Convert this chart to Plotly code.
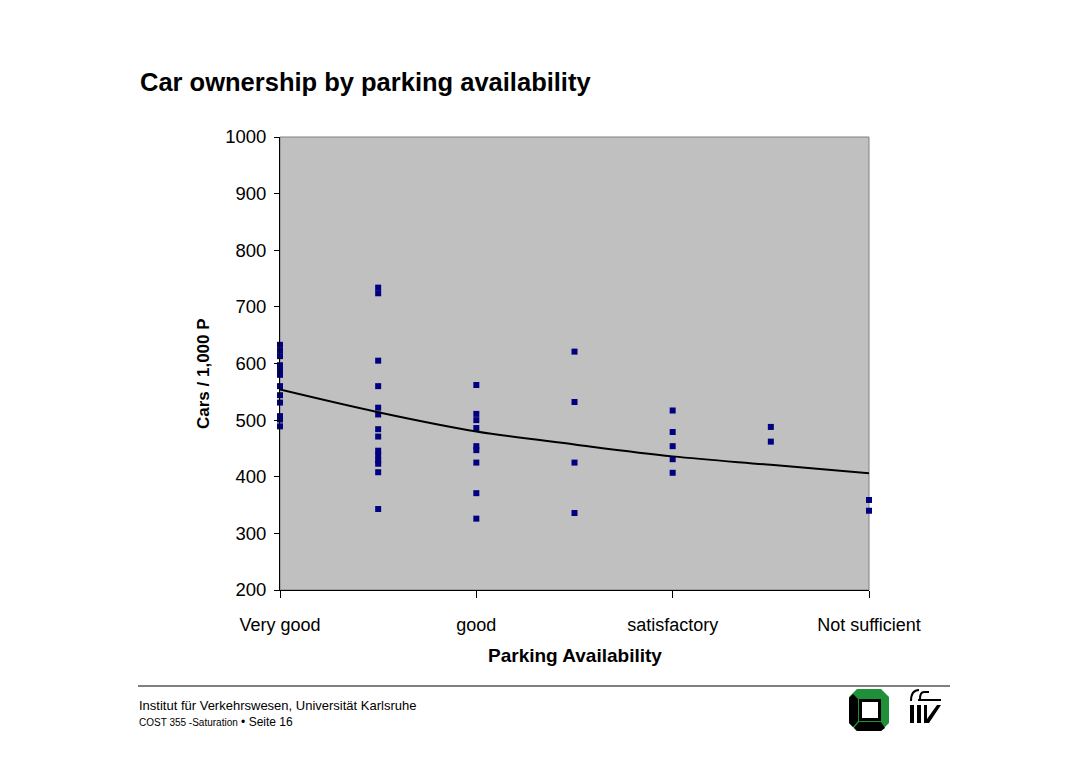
import plotly.graph_objects as go

# ---------------- data ----------------
categories = ["Very good", "good", "satisfactory", "Not sufficient"]
category_positions = [1, 3, 5, 7]

col1 = [633, 623, 613, 597, 588, 580, 560, 544, 531, 507, 501, 489]
col2 = [734, 724, 605, 560, 522, 510, 484, 471, 446, 438, 429, 423, 408, 343]
col3 = [562, 511, 500, 486, 454, 447, 425, 371, 326]
col4 = [621, 532, 425, 336]
col5 = [517, 479, 454, 431, 407]
col6 = [488, 462]
col7 = [359, 340]
columns = [col1, col2, col3, col4, col5, col6, col7]

trend_x = [1, 2, 3, 4, 5, 6, 7]
trend_y = [554, 514, 480, 457, 436, 421, 406]

# ---------------- layout geometry (page pixels; body has an 8px margin) ----------------
OFF = 8
W, H = 1073, 753
L, R, T, B = 280, 869, 137, 590   # plot area in page pixels

def px(x):
    return (x - L) / (R - L)

def py(y):
    return (B - y) / (B - T)

def poly(points):
    return "M " + " L ".join(f"{px(x):.5f},{py(y):.5f}" for x, y in points) + " Z"

FONT = "Arial, Liberation Sans, sans-serif"

xs, ys = [], []
for i, col in enumerate(columns):
    xs += [i + 1] * len(col)
    ys += col

fig = go.Figure()
fig.add_trace(go.Scatter(
    x=xs, y=ys, mode="markers",
    marker=dict(symbol="square", size=6, color="#000080", line=dict(width=0)),
    cliponaxis=False, showlegend=False, hoverinfo="x+y"))
fig.add_trace(go.Scatter(
    x=trend_x, y=trend_y, mode="lines",
    line=dict(color="black", width=2, shape="spline"),
    showlegend=False, hoverinfo="skip"))

shapes = []
shapes.append(dict(type="rect", xref="paper", yref="paper", x0=0, x1=1, y0=0, y1=1,
                   line=dict(color="#808080", width=1), layer="below"))
shapes.append(dict(type="line", xref="paper", yref="paper",
                   x0=px(138), x1=px(950), y0=py(686), y1=py(686),
                   line=dict(color="black", width=1)))
# university logo
shapes.append(dict(type="path", xref="paper", yref="paper",
                   path=poly([(857, 689), (881, 689), (889, 697), (889, 723), (881, 731),
                              (857, 731), (849, 723), (849, 697)]),
                   fillcolor="#1f8f3a", line=dict(width=0)))
shapes.append(dict(type="path", xref="paper", yref="paper",
                   path=poly([(849, 698), (853, 694), (858, 699), (858, 721), (853, 727), (849, 723)]),
                   fillcolor="black", line=dict(width=0)))
shapes.append(dict(type="path", xref="paper", yref="paper",
                   path=poly([(854, 728), (859, 722), (881, 722), (885, 728), (881, 731), (857, 731)]),
                   fillcolor="black", line=dict(width=0)))
shapes.append(dict(type="path", xref="paper", yref="paper",
                   path=poly([(859, 699), (881, 699), (881, 721), (859, 721)]),
                   fillcolor="black", line=dict(width=0)))
shapes.append(dict(type="path", xref="paper", yref="paper",
                   path=poly([(862, 702), (878, 702), (878, 718), (862, 718)]),
                   fillcolor="white", line=dict(width=0)))
# IfV logo
shapes.append(dict(type="path", xref="paper", yref="paper",
                   path=poly([(910, 705), (914, 705), (914, 723), (910, 723)]),
                   fillcolor="black", line=dict(width=0)))
shapes.append(dict(type="path", xref="paper", yref="paper",
                   path=poly([(917, 705), (921, 705), (921, 723), (917, 723)]),
                   fillcolor="black", line=dict(width=0)))
shapes.append(dict(type="path", xref="paper", yref="paper",
                   path=poly([(924, 705), (927, 705), (927, 719), (937, 705), (941, 705),
                              (929, 723), (924, 723)]),
                   fillcolor="black", line=dict(width=0)))
shapes.append(dict(type="path", xref="paper", yref="paper",
                   path=poly([(918, 699), (941, 699), (941, 701), (918, 701)]),
                   fillcolor="black", line=dict(width=0)))
shapes.append(dict(type="path", xref="paper", yref="paper",
                   path=f"M {px(911):.5f},{py(701):.5f} Q {px(911):.5f},{py(690):.5f} {px(919):.5f},{py(690):.5f}",
                   line=dict(color="black", width=2)))
shapes.append(dict(type="path", xref="paper", yref="paper",
                   path=f"M {px(929):.5f},{py(692):.5f} L {px(924):.5f},{py(692):.5f} Q {px(920):.5f},{py(692):.5f} {px(920):.5f},{py(699):.5f}",
                   line=dict(color="black", width=2)))

annotations = [
    dict(text="<b>Car ownership by parking availability</b>", xref="paper", yref="paper",
         x=px(138), y=py(82), xanchor="left", yanchor="middle", showarrow=False,
         font=dict(family=FONT, size=25.5, color="black")),
    dict(text="<b>Cars / 1,000 P</b>", xref="paper", yref="paper",
         x=px(203), y=py(374), xanchor="center", yanchor="middle", showarrow=False,
         textangle=-90, font=dict(family=FONT, size=17, color="black")),
    dict(text="<b>Parking Availability</b>", xref="paper", yref="paper",
         x=px(575), y=py(655), xanchor="center", yanchor="middle", showarrow=False,
         font=dict(family=FONT, size=19, color="black")),
    dict(text="Institut für Verkehrswesen, Universität Karlsruhe", xref="paper", yref="paper",
         x=px(137), y=py(705), xanchor="left", yanchor="middle", showarrow=False,
         font=dict(family=FONT, size=13, color="black")),
    dict(text="<span style='font-size:10px'>COST 355 -Saturation</span> • Seite 16",
         xref="paper", yref="paper",
         x=px(137), y=py(722), xanchor="left", yanchor="middle", showarrow=False,
         font=dict(family=FONT, size=12, color="black")),
]

fig.update_layout(
    width=W, height=H, autosize=False,
    margin=dict(l=L - OFF, r=W - (R - OFF), t=T - OFF, b=H - (B - OFF), pad=0),
    paper_bgcolor="white", plot_bgcolor="#C0C0C0",
    font=dict(family=FONT, color="black"),
    shapes=shapes, annotations=annotations, showlegend=False,
    xaxis=dict(range=[1, 7], tickvals=category_positions, ticktext=categories,
               showgrid=False, zeroline=False, showline=True, linecolor="black", linewidth=1,
               ticks="outside", ticklen=7, tickcolor="black", tickwidth=1,
               tickfont=dict(family=FONT, size=18, color="black"), ticklabelstandoff=11),
    yaxis=dict(range=[200, 1000], dtick=100, tick0=200,
               showgrid=False, zeroline=False, showline=True, linecolor="black", linewidth=1,
               ticks="outside", ticklen=5, tickcolor="black", tickwidth=1,
               tickfont=dict(family=FONT, size=18.5, color="black"), ticklabelstandoff=4),
)

fig.write_html("out.html")
